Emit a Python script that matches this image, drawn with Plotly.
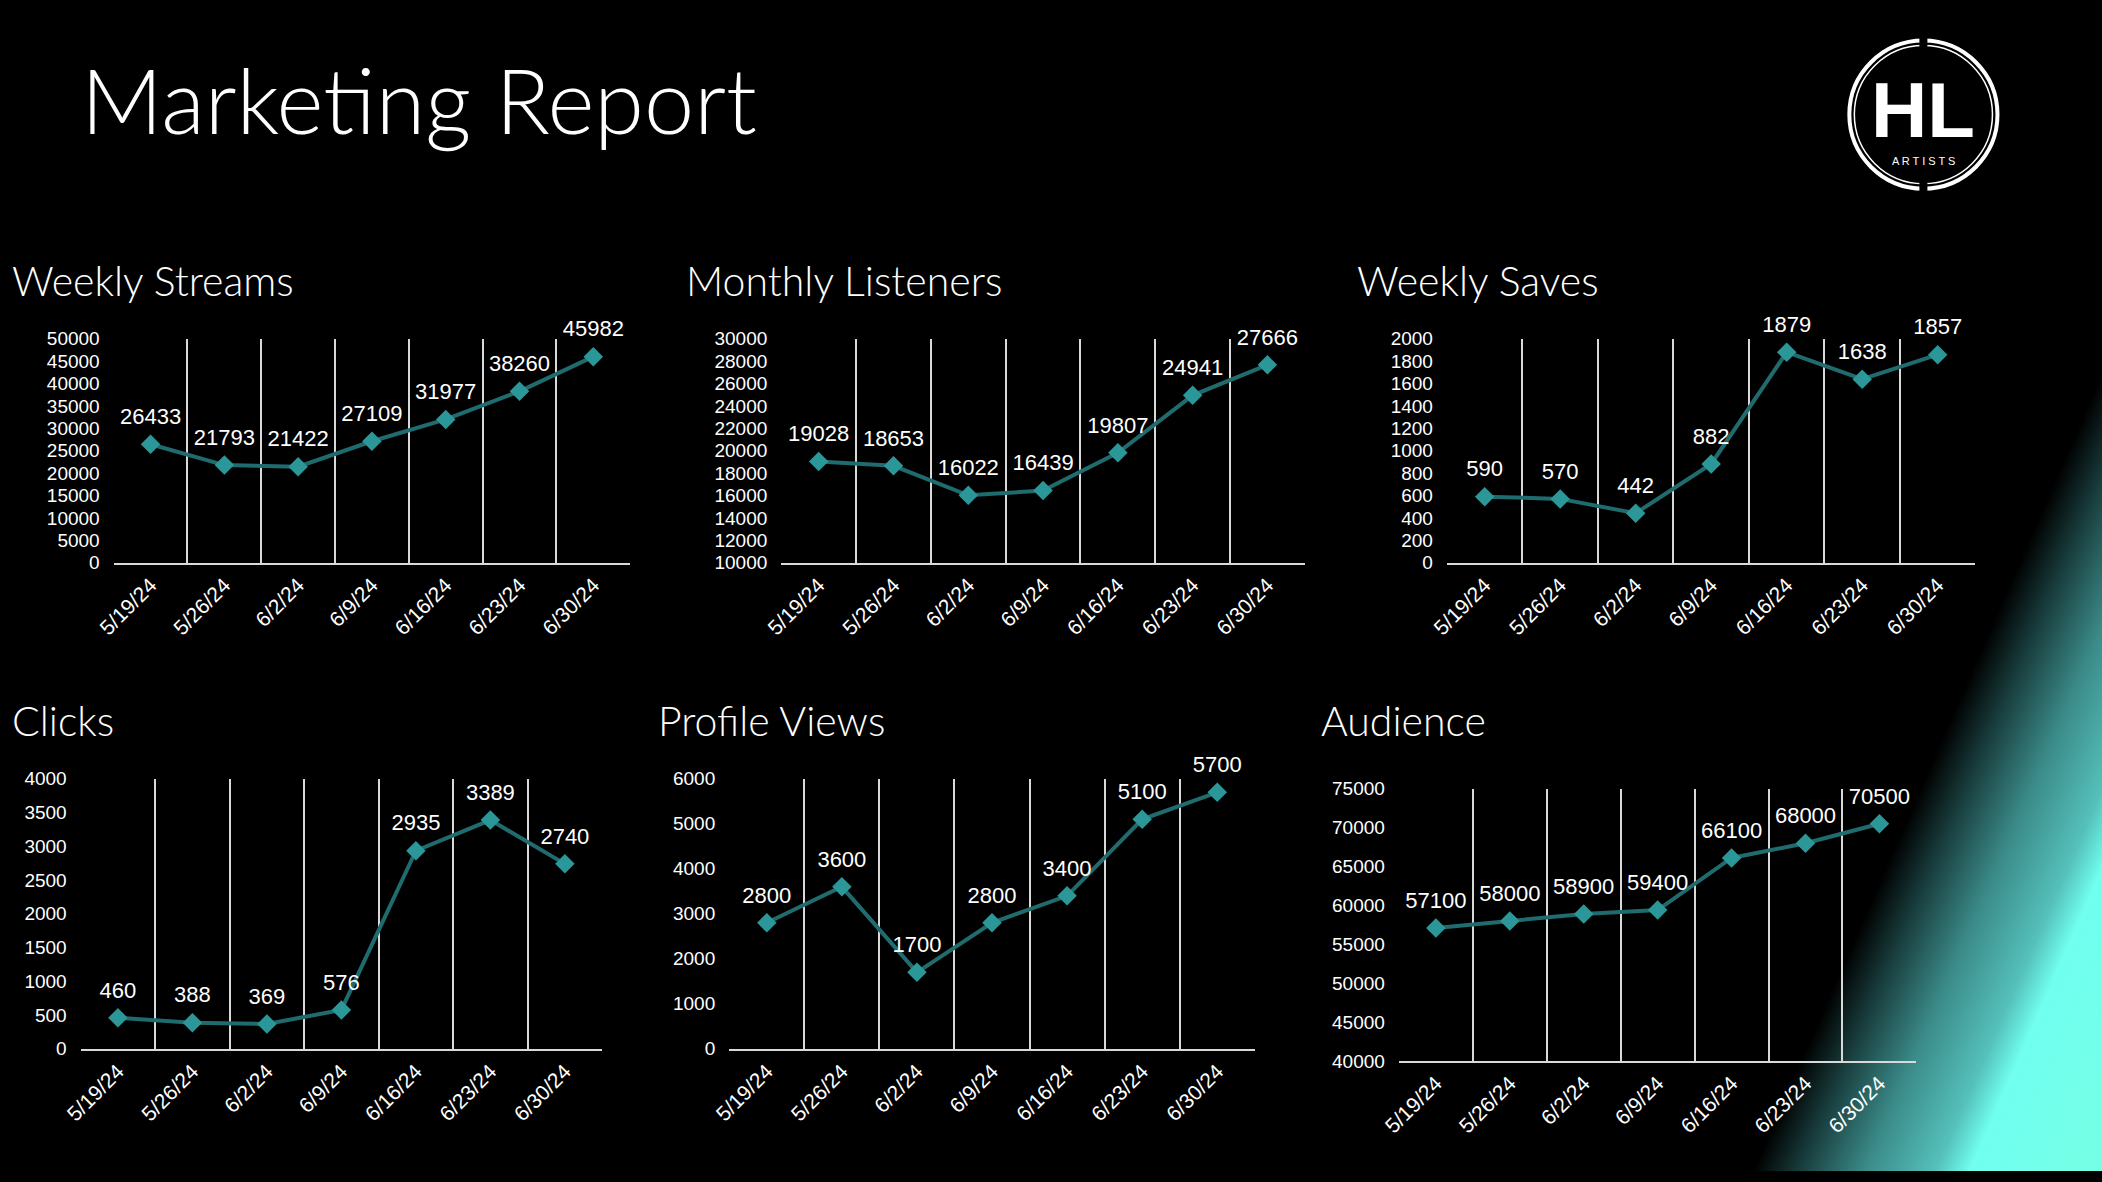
import base64
import plotly.graph_objects as go

# ---------------- data ----------------
dates = ["5/19/24", "5/26/24", "6/2/24", "6/9/24", "6/16/24", "6/23/24", "6/30/24"]
weekly_streams = [26433, 21793, 21422, 27109, 31977, 38260, 45982]
monthly_listeners = [19028, 18653, 16022, 16439, 19807, 24941, 27666]
weekly_saves = [590, 570, 442, 882, 1879, 1638, 1857]
clicks = [460, 388, 369, 576, 2935, 3389, 2740]
profile_views = [2800, 3600, 1700, 2800, 3400, 5100, 5700]
audience = [57100, 58000, 58900, 59400, 66100, 68000, 70500]

W, H = 2102, 1182

# measured placement of the figure inside the final picture (offset & scale)
OX, OY, SX, SY = 17.4, 9.4, 0.9905, 0.982


def fx(x):
    """target picture x (px) -> paper fraction"""
    return (x - OX) / SX / W


def fy(y):
    """target picture y (px) -> paper fraction"""
    return 1 - (y - OY) / SY / H


def fy_text(baseline, size, k=0.387):
    """paper y of the middle of a text box whose baseline should land at `baseline`"""
    return 1 - ((baseline - OY) / SY - k * size) / H


charts = [
    dict(title="Weekly Streams", values=weekly_streams, yrange=[0, 50000], dtick=5000,
         box=(113, 629, 338, 562), title_at=(9, 295)),
    dict(title="Monthly Listeners", values=monthly_listeners, yrange=[10000, 30000], dtick=2000,
         box=(780, 1303, 338, 562), title_at=(683, 295)),
    dict(title="Weekly Saves", values=weekly_saves, yrange=[0, 2000], dtick=200,
         box=(1445, 1973, 338, 562), title_at=(1353, 295)),
    dict(title="Clicks", values=clicks, yrange=[0, 4000], dtick=500,
         box=(80, 601, 778, 1048), title_at=(9, 735)),
    dict(title="Profile Views", values=profile_views, yrange=[0, 6000], dtick=1000,
         box=(728, 1253, 778, 1048), title_at=(655, 735)),
    dict(title="Audience", values=audience, yrange=[40000, 75000], dtick=5000,
         box=(1397, 1914, 788, 1060), title_at=(1317, 735)),
]

LINE_COLOR = "#1f6b6e"
MARKER_COLOR = "#2b9799"
GRID_COLOR = "#d9d9d9"
TICK_FONT = "Liberation Sans, Arial, sans-serif"
TITLE_FONT = "Lato, Open Sans, sans-serif"

fig = go.Figure()
annotations = []
layout_axes = {}

for i, c in enumerate(charts, start=1):
    xa = "x" if i == 1 else f"x{i}"
    ya = "y" if i == 1 else f"y{i}"
    fig.add_trace(go.Scatter(
        x=dates, y=c["values"], xaxis=xa, yaxis=ya,
        mode="lines+markers",
        line=dict(color=LINE_COLOR, width=4),
        marker=dict(symbol="diamond", size=15, color=MARKER_COLOR),
        cliponaxis=False, showlegend=False, hoverinfo="skip",
    ))
    fig.add_trace(go.Scatter(
        x=dates, y=c["values"], xaxis=xa, yaxis=ya,
        mode="markers+text",
        marker=dict(size=22, color="rgba(0,0,0,0)"),
        text=[str(v) for v in c["values"]],
        textposition="top center",
        textfont=dict(family=TICK_FONT, size=22, color="white"),
        cliponaxis=False, showlegend=False, hoverinfo="skip",
    ))
    bx0, bx1, by0, by1 = c["box"]
    layout_axes[f"xaxis{'' if i == 1 else i}"] = dict(
        domain=[fx(bx0), fx(bx1)], anchor=ya, type="category",
        range=[-0.5, len(dates) - 0.5], autorange=False,
        tickson="boundaries", showgrid=True, gridcolor=GRID_COLOR, gridwidth=2,
        showline=True, linecolor=GRID_COLOR, linewidth=2,
        ticks="", tickangle=-45, ticklabelstandoff=0,
        tickfont=dict(family=TICK_FONT, size=21, color="white"),
        zeroline=False, fixedrange=True,
    )
    layout_axes[f"yaxis{'' if i == 1 else i}"] = dict(
        domain=[fy(by1), fy(by0)], anchor=xa,
        range=c["yrange"], dtick=c["dtick"], tick0=c["yrange"][0],
        tickformat="d",
        showgrid=False, zeroline=False, showline=False,
        ticks="", ticklabelstandoff=13,
        tickfont=dict(family=TICK_FONT, size=19, color="white"),
        fixedrange=True,
    )
    tx, tb = c["title_at"]
    annotations.append(dict(
        text=c["title"], xref="paper", yref="paper",
        x=fx(tx), y=fy_text(tb, 41),
        xanchor="left", yanchor="middle", showarrow=False,
        font=dict(family=TITLE_FONT, size=41, color="white", weight=300),
    ))

# main title
annotations.append(dict(
    text="Marketing Report", xref="paper", yref="paper",
    x=fx(78), y=fy_text(133, 90), xanchor="left", yanchor="middle",
    showarrow=False, font=dict(family=TITLE_FONT, size=90, color="white", weight=300),
))

# logo (HL ARTISTS)
LX, LY, LR = 1921, 114, 74
annotations.append(dict(
    text="<b>HL</b>", xref="paper", yref="paper",
    x=fx(LX), y=fy_text(136, 78, k=0.3465),
    xanchor="center", yanchor="middle", showarrow=False,
    font=dict(family="Liberation Sans, Arial", size=78, color="white"),
))
annotations.append(dict(
    text="A R T I S T S", xref="paper", yref="paper",
    x=fx(LX), y=fy_text(164, 11, k=0.3465),
    xanchor="center", yanchor="middle", showarrow=False,
    font=dict(family="Liberation Sans, Arial", size=11, color="white"),
))


def circ(r, width):
    return dict(type="circle", xref="paper", yref="paper",
                x0=fx(LX - r), x1=fx(LX + r), y0=fy(LY + r), y1=fy(LY - r),
                line=dict(color="white", width=width), layer="above")


def gap(ya, yb):
    return dict(type="rect", xref="paper", yref="paper",
                x0=fx(LX - 4), x1=fx(LX + 4), y0=fy(yb), y1=fy(ya),
                fillcolor="black", line=dict(width=0), layer="above")


shapes = [
    circ(LR, 4), circ(LR - 5, 1.5),
    gap(LY - LR - 4, LY - LR + 9),
    gap(LY + LR - 9, LY + LR + 4),
]

# ---- decorative teal glow in the lower-right corner ----
# linear ramp along direction n (picture coords), stops given as distance d = n.p
NX, NY = 0.9165, 0.4008
GLOW_STOPS = [(0, "#000000"), (2073, "#000000"), (2118, "#1a4040"), (2175, "#3a8a88"),
              (2240, "#55c0ba"), (2272, "#70fff0"), (2400, "#76ffe4")]
DMAX = 2400.0
# same ramp expressed in figure coordinates
mx, my = NX * SX, NY * SY
m2 = mx * mx + my * my
d0 = NX * OX + NY * OY
l1, l2 = -d0 / m2, (DMAX - d0) / m2
svg_stops = "".join(f'<stop offset="{d / DMAX:.4f}" stop-color="{col}"/>' for d, col in GLOW_STOPS)
svg = (
    f'<svg xmlns="http://www.w3.org/2000/svg" width="{W}" height="{H}" viewBox="0 0 {W} {H}">'
    f'<defs><linearGradient id="g" gradientUnits="userSpaceOnUse" '
    f'x1="{l1 * mx:.2f}" y1="{l1 * my:.2f}" x2="{l2 * mx:.2f}" y2="{l2 * my:.2f}">'
    f'{svg_stops}</linearGradient></defs>'
    f'<rect width="{W}" height="{H}" fill="url(#g)"/></svg>'
)
svg_uri = "data:image/svg+xml;base64," + base64.b64encode(svg.encode()).decode()

fig.update_layout(
    width=W, height=H, margin=dict(l=0, r=0, t=0, b=0),
    paper_bgcolor="black", plot_bgcolor="rgba(0,0,0,0)",
    annotations=annotations, shapes=shapes,
    images=[dict(source=svg_uri, xref="paper", yref="paper", x=0, y=1,
                 sizex=1, sizey=1, xanchor="left", yanchor="top",
                 sizing="stretch", layer="below")],
    **layout_axes,
)

# page background (outside the figure) uses the same ramp
css_stops = ",".join(f"{col} {d}px" for d, col in GLOW_STOPS)
glow_css = f"linear-gradient(113.63deg,{css_stops})"

fig.write_html(
    "out.html", config={"displayModeBar": False, "responsive": False},
    post_script=(
        "document.documentElement.style.margin='0';"
        "document.documentElement.style.overflow='hidden';"
        "document.documentElement.style.minHeight='100%';"
        "document.documentElement.style.backgroundColor='#000';"
        f"document.documentElement.style.backgroundImage='{glow_css}';"
        "document.documentElement.style.backgroundRepeat='no-repeat';"
        "document.body.style.margin='0';"
        "document.body.style.overflow='hidden';"
        "document.body.style.background='transparent';"
    ),
)
